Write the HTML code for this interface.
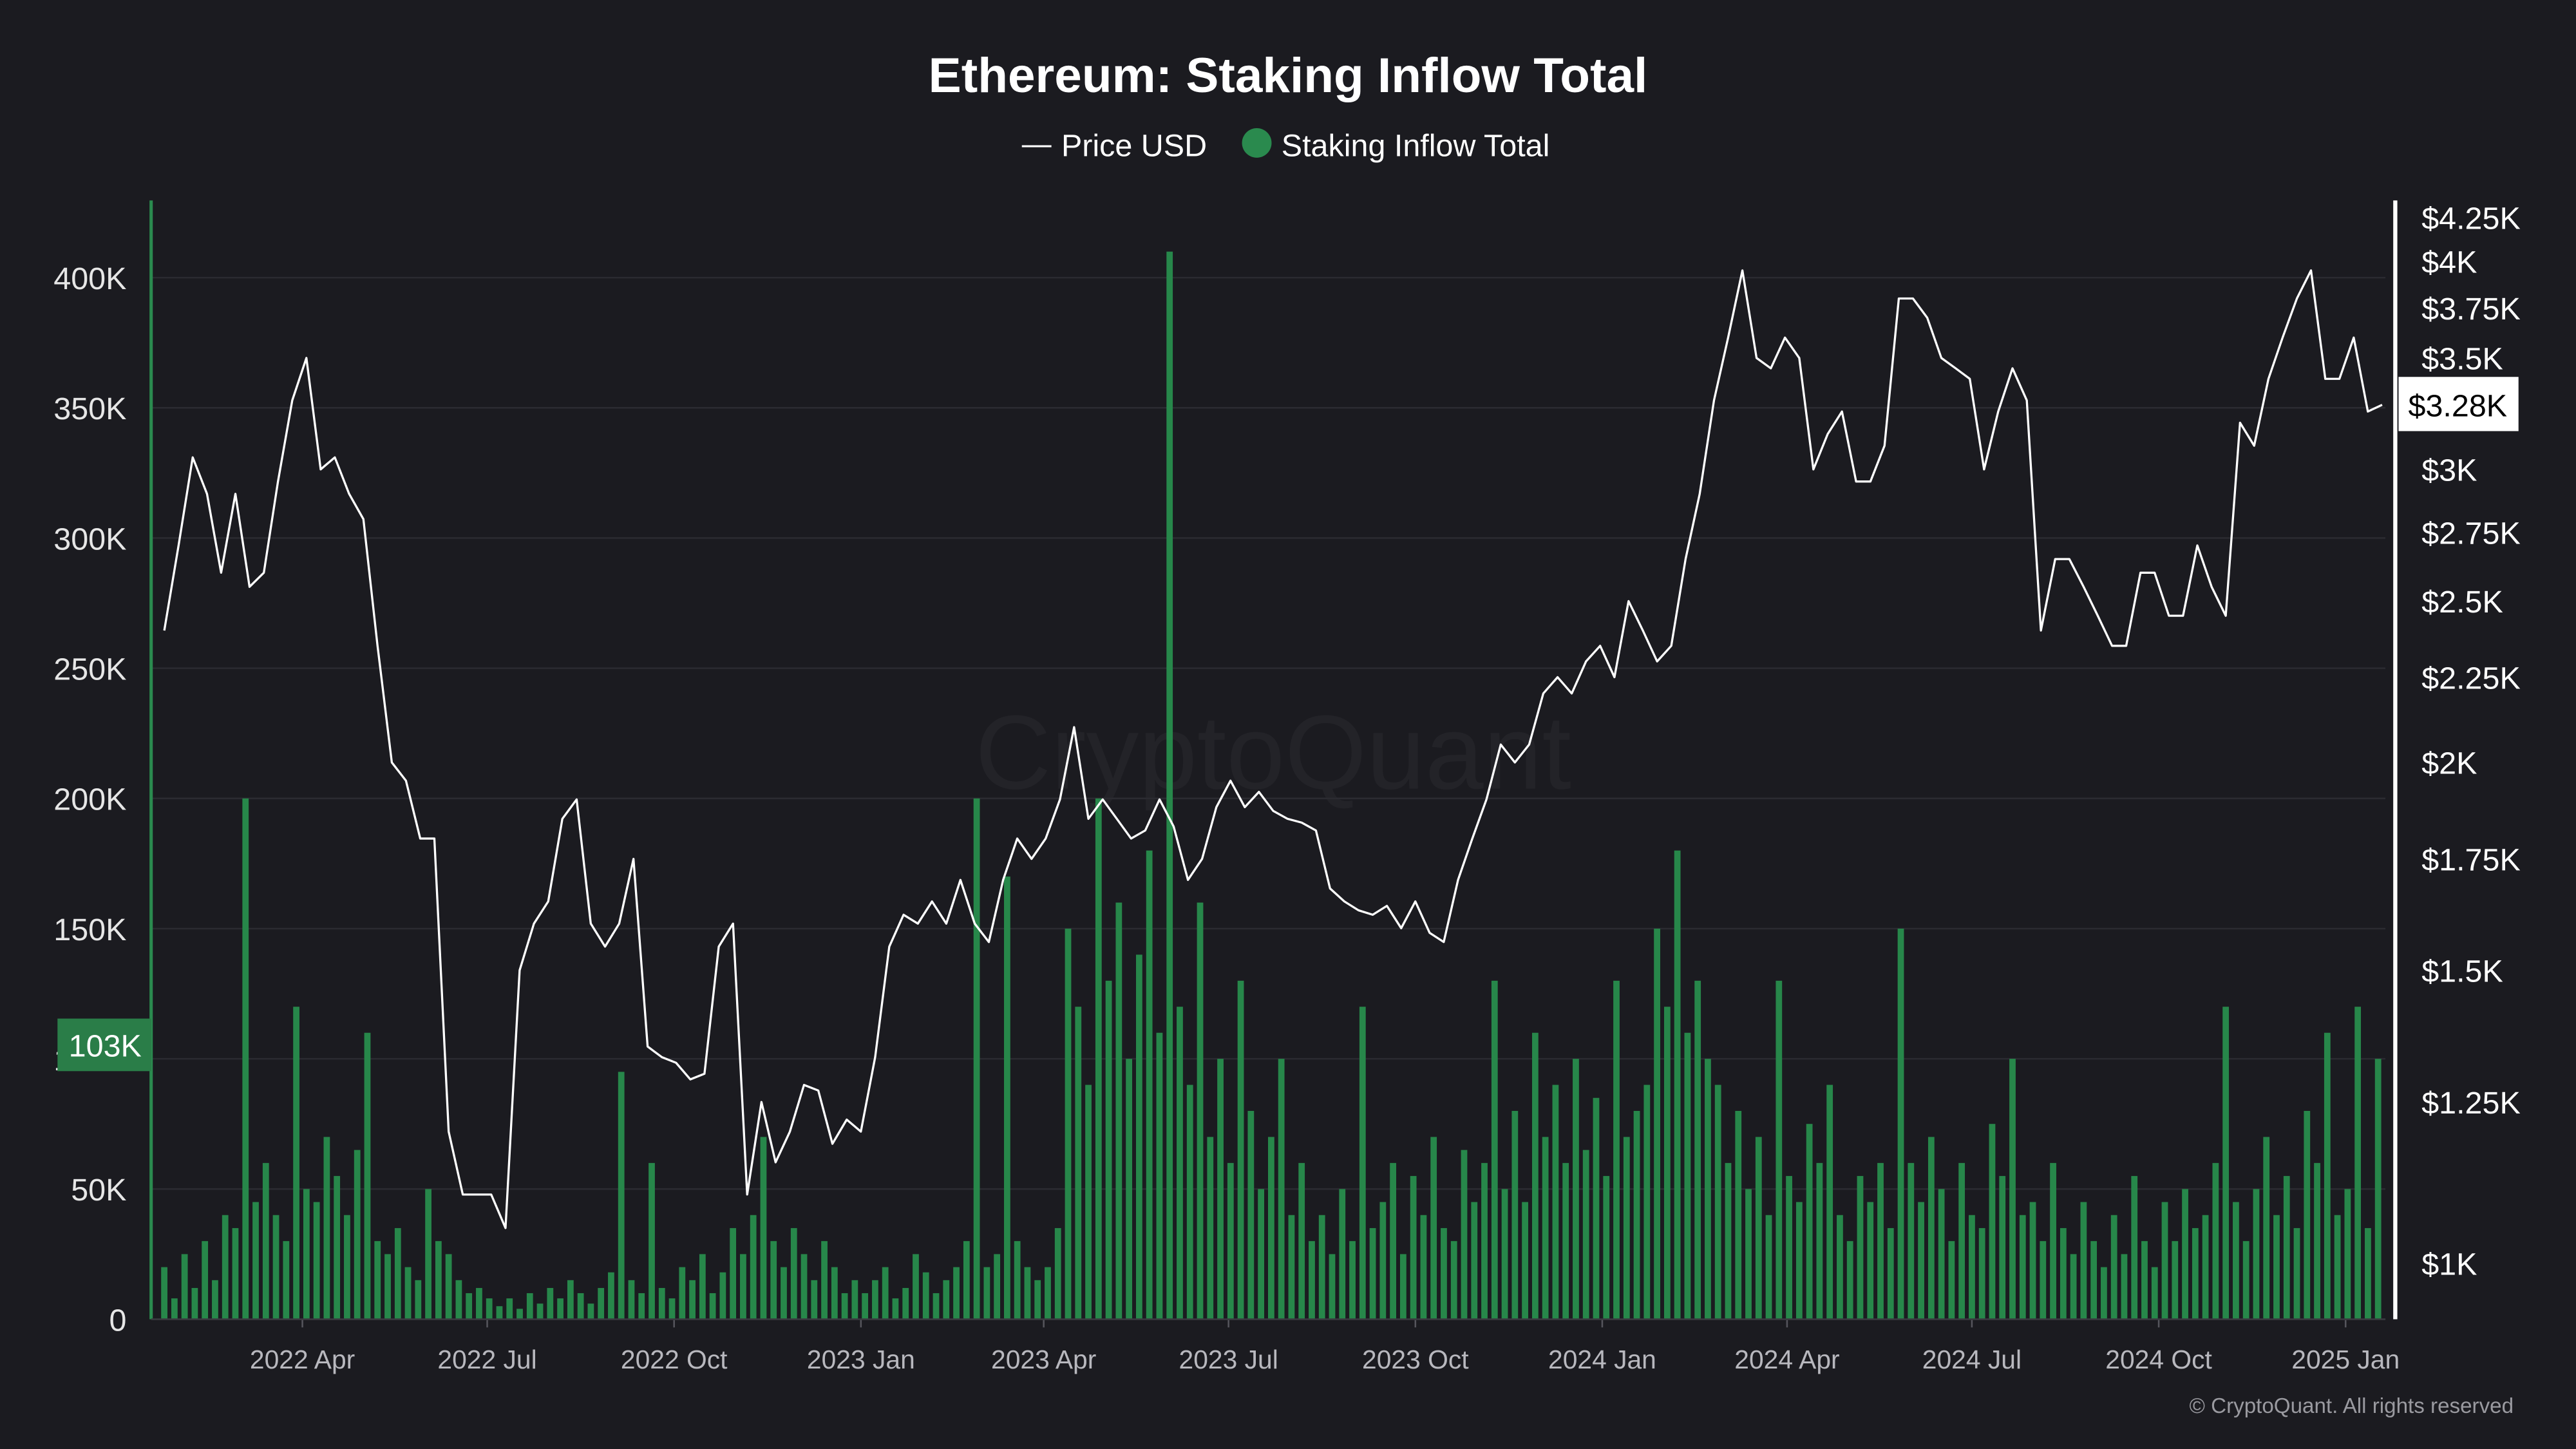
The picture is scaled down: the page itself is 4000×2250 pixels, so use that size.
<!DOCTYPE html>
<html><head><meta charset="utf-8"><style>
html,body{margin:0;padding:0;background:#1b1b20;}
svg{display:block;font-family:"Liberation Sans",sans-serif;}
</style></head><body>
<svg id="chart" width="4000" height="2250" viewBox="0 0 1568 882" xmlns="http://www.w3.org/2000/svg">
<rect x="0" y="0" width="1568" height="882" fill="#1b1b20"/>
<text x="784" y="56" text-anchor="middle" fill="#ffffff" font-size="30" font-weight="bold">Ethereum: Staking Inflow Total</text>
<g>
<line x1="622" y1="89" x2="640" y2="89" stroke="#ffffff" stroke-width="1.2"/>
<text x="646" y="95" fill="#ffffff" font-size="19">Price USD</text>
<circle cx="765" cy="87" r="9" fill="#2a8a4e"/>
<text x="780" y="95" fill="#ffffff" font-size="19">Staking Inflow Total</text>
</g>
<text x="775" y="480" text-anchor="middle" fill="#232328" font-size="64">CryptoQuant</text>
<g id="grid"></g>
<g id="bars"></g>
<g id="priceg"></g>
<g id="axes"></g>
<text x="1530" y="860" text-anchor="end" fill="#9a9aa0" font-size="13">© CryptoQuant. All rights reserved</text>
</svg>
<script>
const leftTicks = [0, 50, 100, 150, 200, 250, 300, 350, 400];
const leftTickLabels = ["0", "50K", "100K", "150K", "200K", "250K", "300K", "350K", "400K"];
const rightTicks = [1000, 1250, 1500, 1750, 2000, 2250, 2500, 2750, 3000, 3500, 3750, 4000, 4250];
const rightTickLabels = ["$1K", "$1.25K", "$1.5K", "$1.75K", "$2K", "$2.25K", "$2.5K", "$2.75K", "$3K", "$3.5K", "$3.75K", "$4K", "$4.25K"];
const xTickDays = [68, 159, 251, 343, 433, 524, 616, 708, 799, 890, 982, 1074];
const xTickLabels = ["2022 Apr", "2022 Jul", "2022 Oct", "2023 Jan", "2023 Apr", "2023 Jul", "2023 Oct", "2024 Jan", "2024 Apr", "2024 Jul", "2024 Oct", "2025 Jan"];
const priceStepDays = 7;
const priceValues = [2400,2700,3050,2900,2600,2900,2550,2600,2950,3300,3500,3000,3050,2900,2800,2350,2000,1950,1800,1800,1200,1100,1100,1100,1050,1500,1600,1650,1850,1900,1600,1550,1600,1750,1350,1330,1320,1290,1300,1550,1600,1100,1250,1150,1200,1280,1270,1180,1220,1200,1330,1550,1620,1600,1650,1600,1700,1600,1560,1700,1800,1750,1800,1900,2100,1850,1900,1850,1800,1820,1900,1830,1700,1750,1880,1950,1880,1920,1870,1850,1840,1820,1680,1650,1630,1620,1640,1590,1650,1580,1560,1700,1800,1900,2050,2000,2050,2200,2250,2200,2300,2350,2250,2500,2400,2300,2350,2650,2900,3300,3600,3950,3500,3450,3600,3500,3000,3150,3250,2950,2950,3100,3800,3800,3700,3500,3450,3400,3000,3250,3450,3300,2400,2650,2650,2550,2450,2350,2350,2600,2600,2450,2450,2700,2550,2450,3200,3100,3400,3600,3800,3950,3400,3400,3600,3250,3280];
const inflowStepDays = 5;
const inflowValues = [20,8,25,12,30,15,40,35,200,45,60,40,30,120,50,45,70,55,40,65,110,30,
25,35,20,15,50,30,25,15,10,12,8,
5,8,4,10,6,12,8,15,10,6,12,18,95,15,10,60,12,8,20,15,25,10,18,
35,25,40,70,30,20,35,25,15,30,20,10,15,
10,15,20,8,12,25,18,10,15,20,30,200,20,25,170,30,20,15,20,35,
150,120,90,200,130,160,100,140,180,110,410,
120,90,160,70,100,60,130,80,50,70,100,40,60,30,
40,25,50,30,120,35,45,60,25,55,40,70,35,30,65,45,
60,130,50,80,45,110,70,90,60,100,65,85,55,130,70,80,
90,150,120,180,110,130,100,90,60,
80,50,70,40,130,55,45,75,60,90,40,30,55,45,60,35,
150,60,45,70,50,30,60,40,35,75,55,100,40,45,30,60,
35,25,45,30,20,40,25,55,30,20,45,30,50,35,40,
60,120,45,30,50,70,40,55,35,80,60,110,40,50,120,35,100];
const lastInflowLabel = "103K";
const lastPriceLabel = "$3.28K";
const lastPriceValue = 3280;

const NS = "http://www.w3.org/2000/svg";
const PL = 92, PR = 1452, PT = 122, PB = 803;
const totalDays = 1092;
function xScale(d){ return 100 + d * (1350 / totalDays); }
function yLeft(v){ return PB - v / 400 * 634; }
function yRight(p){ return 769 - Math.log10(p / 1000) * 1013; }
function mk(tag, attrs, parent){
  const e = document.createElementNS(NS, tag);
  for (const k in attrs) e.setAttribute(k, attrs[k]);
  parent.appendChild(e); return e;
}
const grid = document.getElementById('grid');
const axes = document.getElementById('axes');
leftTicks.forEach((v, i) => {
  const y = yLeft(v);
  const l = mk('line', {x1: PL, x2: PR, y1: y, y2: y, stroke: '#2b2b31', 'stroke-width': 1}, grid);
  
  
  const t = mk('text', {x: 77, y: y + 7, 'text-anchor': 'end', fill: '#e6e6e6', 'font-size': 19}, axes);
  t.textContent = leftTickLabels[i];
  
  
});
rightTicks.forEach((p, i) => {
  const t = mk('text', {x: 1474, y: yRight(p) + 7, fill: '#ffffff', 'font-size': 19}, axes);
  t.textContent = rightTickLabels[i];
  
  
});
xTickDays.forEach((d, i) => {
  const x = xScale(d);
  const tk = mk('line', {x1: x, x2: x, y1: PB, y2: PB + 5, stroke: '#55555c', 'stroke-width': 1}, axes);
  
  
  const t = mk('text', {x: x, y: 833, 'text-anchor': 'middle', fill: '#b8b8be', 'font-size': 16}, axes);
  t.textContent = xTickLabels[i];
  
  
});
const bars = document.getElementById('bars');
const bw = inflowStepDays * (1350 / totalDays) * 0.62;
inflowValues.forEach((v, i) => {
  const x = xScale(i * inflowStepDays);
  const y = yLeft(v);
  const r = mk('rect', {x: x - bw / 2, y: y, width: bw, height: PB - y, fill: '#27874a'}, bars);
  
  
});
const pts = priceValues.map((p, i) => xScale(i * priceStepDays).toFixed(1) + ',' + yRight(p).toFixed(1)).join(' ');
const pl = mk('polyline', {points: pts, fill: 'none', stroke: '#ffffff', 'stroke-width': 1.3, 'stroke-linejoin': 'round'}, document.getElementById('priceg'));


const la = mk('line', {x1: PL, x2: PL, y1: PT, y2: PB, stroke: '#2a8a4e', 'stroke-width': 2}, axes);


const ra = mk('line', {x1: 1458, x2: 1458, y1: PT, y2: PB, stroke: '#ffffff', 'stroke-width': 2.5}, axes);


const ba = mk('line', {x1: PL, x2: PR, y1: PB, y2: PB, stroke: '#3a3a40', 'stroke-width': 1}, axes);


const lb = mk('rect', {x: 35, y: 620, width: 57, height: 32, fill: '#2a7d48'}, axes);


const lbt = mk('text', {x: 64, y: 643, 'text-anchor': 'middle', fill: '#ffffff', 'font-size': 19}, axes);
lbt.textContent = lastInflowLabel;


const ry = yRight(lastPriceValue);
const rb = mk('rect', {x: 1460, y: ry - 17, width: 73, height: 33, fill: '#ffffff'}, axes);


const rbt = mk('text', {x: 1496, y: ry + 7, 'text-anchor': 'middle', fill: '#000000', 'font-size': 19}, axes);
rbt.textContent = lastPriceLabel;


</script>
</body></html>
